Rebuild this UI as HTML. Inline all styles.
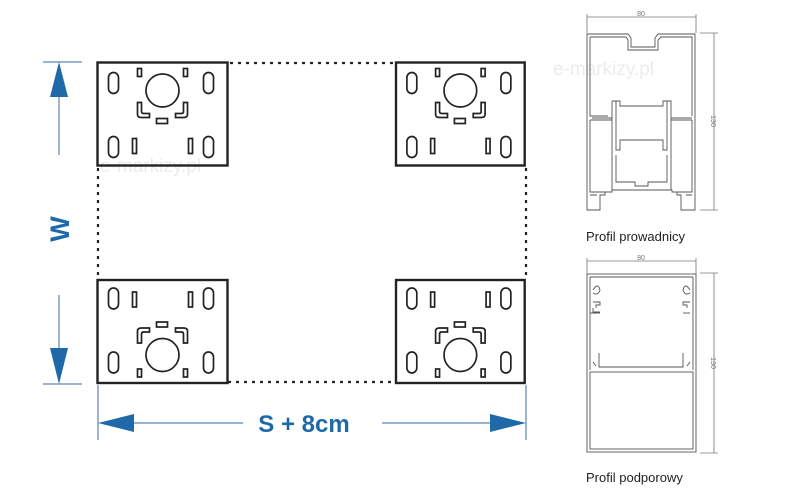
<!DOCTYPE html>
<html><head><meta charset="utf-8"><style>
html,body{margin:0;padding:0;background:#fff;width:800px;height:500px;overflow:hidden}
svg{display:block}
</style></head><body>
<svg width="800" height="500" viewBox="0 0 800 500" xmlns="http://www.w3.org/2000/svg">
<defs>
<g id="plate" fill="none" stroke="#222" stroke-width="1.7">
 <rect x="0" y="0" width="130" height="103" stroke-width="2.4"/>
 <rect x="11" y="10" width="10" height="21" rx="5"/>
 <rect x="106" y="10" width="10" height="21" rx="5"/>
 <rect x="11" y="74" width="10" height="21" rx="5"/>
 <rect x="106" y="74" width="10" height="21" rx="5"/>
 <rect x="40" y="6" width="4" height="8"/>
 <rect x="86" y="6" width="4" height="8"/>
 <rect x="35" y="76" width="4" height="15"/>
 <rect x="91" y="76" width="4" height="15"/>
 <circle cx="65" cy="28" r="16.5"/>
 <path d="M40 40 L40 52 Q40 55 44 55 L52 55 L52 51 L46 51 Q44 51 44 49 L44 40 Z"/>
 <path d="M90 40 L90 52 Q90 55 86 55 L78 55 L78 51 L84 51 Q86 51 86 49 L86 40 Z"/>
 <rect x="59" y="56" width="11" height="5"/>
</g>
</defs>

<text x="553" y="75" font-family="Liberation Sans, sans-serif" font-size="19" fill="#ececec">e-markizy.pl</text>
<text x="100" y="172" font-family="Liberation Sans, sans-serif" font-size="19" fill="#ececec">e-markizy.pl</text>

<g stroke="#222" stroke-width="2.2" stroke-dasharray="3,5" fill="none">
 <line x1="230" y1="63" x2="397" y2="63"/>
 <line x1="228" y1="382" x2="397" y2="382"/>
 <line x1="98" y1="168" x2="98" y2="280"/>
 <line x1="526" y1="168" x2="526" y2="280"/>
</g>

<use href="#plate" transform="translate(97.5,62.5)"/>
<use href="#plate" transform="translate(396,62.5) scale(0.99,1)"/>
<use href="#plate" transform="translate(97.5,383) scale(1,-1)"/>
<use href="#plate" transform="translate(396,383) scale(0.99,-1)"/>

<g stroke="#5a86b3" stroke-width="1.2">
 <line x1="43" y1="62" x2="82" y2="62"/>
 <line x1="43" y1="384" x2="82" y2="384"/>
 <line x1="59" y1="90" x2="59" y2="155"/>
 <line x1="59" y1="295" x2="59" y2="355"/>
</g>
<polygon points="59,62 50,97 68,97" fill="#1f69a8"/>
<polygon points="59,384 50,348 68,348" fill="#1f69a8"/>
<text x="0" y="0" transform="translate(69,229) rotate(-90)" text-anchor="middle" font-family="Liberation Sans, sans-serif" font-weight="bold" font-size="27" fill="#1f69a8">W</text>

<g stroke="#5a86b3" stroke-width="1.2">
 <line x1="98" y1="385" x2="98" y2="440"/>
 <line x1="526" y1="385" x2="526" y2="440"/>
 <line x1="120" y1="423" x2="243" y2="423"/>
 <line x1="382" y1="423" x2="500" y2="423"/>
</g>
<polygon points="98,423 134,414 134,432" fill="#1f69a8"/>
<polygon points="526,423 490,414 490,432" fill="#1f69a8"/>
<text x="304" y="432" text-anchor="middle" font-family="Liberation Sans, sans-serif" font-weight="bold" font-size="24" fill="#1f69a8">S + 8cm</text>

<!-- Profile 1 -->
<g fill="none" stroke="#777" stroke-width="0.8">
 <line x1="587" y1="17" x2="696" y2="17"/>
 <line x1="587" y1="14" x2="587" y2="33"/>
 <line x1="696" y1="14" x2="696" y2="33"/>
 <line x1="700" y1="33" x2="718" y2="33"/>
 <line x1="700" y1="210" x2="718" y2="210"/>
 <line x1="714" y1="33" x2="714" y2="210"/>
</g>
<text x="641" y="16" text-anchor="middle" font-family="Liberation Sans, sans-serif" font-size="7" fill="#777">80</text>
<text x="0" y="0" transform="translate(711,121) rotate(90)" text-anchor="middle" font-family="Liberation Sans, sans-serif" font-size="7" fill="#777">130</text>
<g fill="none" stroke="#555" stroke-width="0.9">
 <path d="M587 34 L628 34 L631 38 L631 47 L655 47 L655 38 L658 34 L695 34 L695 210 L681 210 L681 195 L677 195 L677 192 L672 192 L672 190 L612 190 L612 192 L605 192 L605 195 L600 195 L600 210 L587 210 Z"/>
 <path d="M590 37 L626 37 L628 40 L628 50 L658 50 L658 40 L661 37 L692 37 L692 116"/>
 <path d="M590 37 L590 116 L608 116 M592 118 L612 118 M671 118 L692 118"/>
 <path d="M612 101 L612 190 M616 101 L616 150 L620 150 L620 140 L663 140 L663 150 L667 150 L667 101"/>
 <path d="M612 101 L620 101 L620 106 L663 106 L663 101 L671 101 L671 190"/>
 <path d="M590 120 L612 120 M671 120 L692 120"/>
 <path d="M590 120 L590 192 L605 192 M692 120 L692 192 L677 192"/>
 <path d="M616 155 L616 182 L635 182 L635 186 L648 186 L648 182 L667 182 L667 155"/>
 <path d="M590 195 L597 195 M686 195 L692 195"/>
</g>
<text x="586" y="241" font-family="Liberation Sans, sans-serif" font-size="13" fill="#222">Profil prowadnicy</text>

<!-- Profile 2 -->
<g fill="none" stroke="#777" stroke-width="0.8">
 <line x1="587" y1="261" x2="696" y2="261"/>
 <line x1="587" y1="258" x2="587" y2="274"/>
 <line x1="696" y1="258" x2="696" y2="274"/>
 <line x1="700" y1="273" x2="718" y2="273"/>
 <line x1="700" y1="453" x2="718" y2="453"/>
 <line x1="714" y1="273" x2="714" y2="453"/>
</g>
<text x="641" y="260" text-anchor="middle" font-family="Liberation Sans, sans-serif" font-size="7" fill="#777">80</text>
<text x="0" y="0" transform="translate(711,363) rotate(90)" text-anchor="middle" font-family="Liberation Sans, sans-serif" font-size="7" fill="#777">130</text>
<g fill="none" stroke="#555" stroke-width="0.9">
 <rect x="587" y="274" width="109" height="178"/>
 <rect x="590" y="372" width="103" height="77"/>
 <line x1="590" y1="277" x2="693" y2="277"/>
 <line x1="590" y1="277" x2="590" y2="370"/>
 <line x1="693" y1="277" x2="693" y2="370"/>
 <path d="M599 353 L599 367 L683 367 L683 353"/>
 <path d="M593 290 Q598 282 600 290 Q598 296 593 293"/>
 <path d="M690 290 Q685 282 683 290 Q685 296 690 293"/>
 <path d="M593 302 L600 302 L600 305 L596 305 L596 308"/>
 <path d="M690 302 L683 302 L683 305 L687 305 L687 308"/>
 <path d="M593 308 L593 312 L600 312 M590 313 L600 313"/>
 <path d="M690 313 L683 313"/>
 <path d="M593 362 L596 366 M690 362 L687 366"/>
</g>
<text x="586" y="482" font-family="Liberation Sans, sans-serif" font-size="13" fill="#222">Profil podporowy</text>
</svg>
</body></html>
